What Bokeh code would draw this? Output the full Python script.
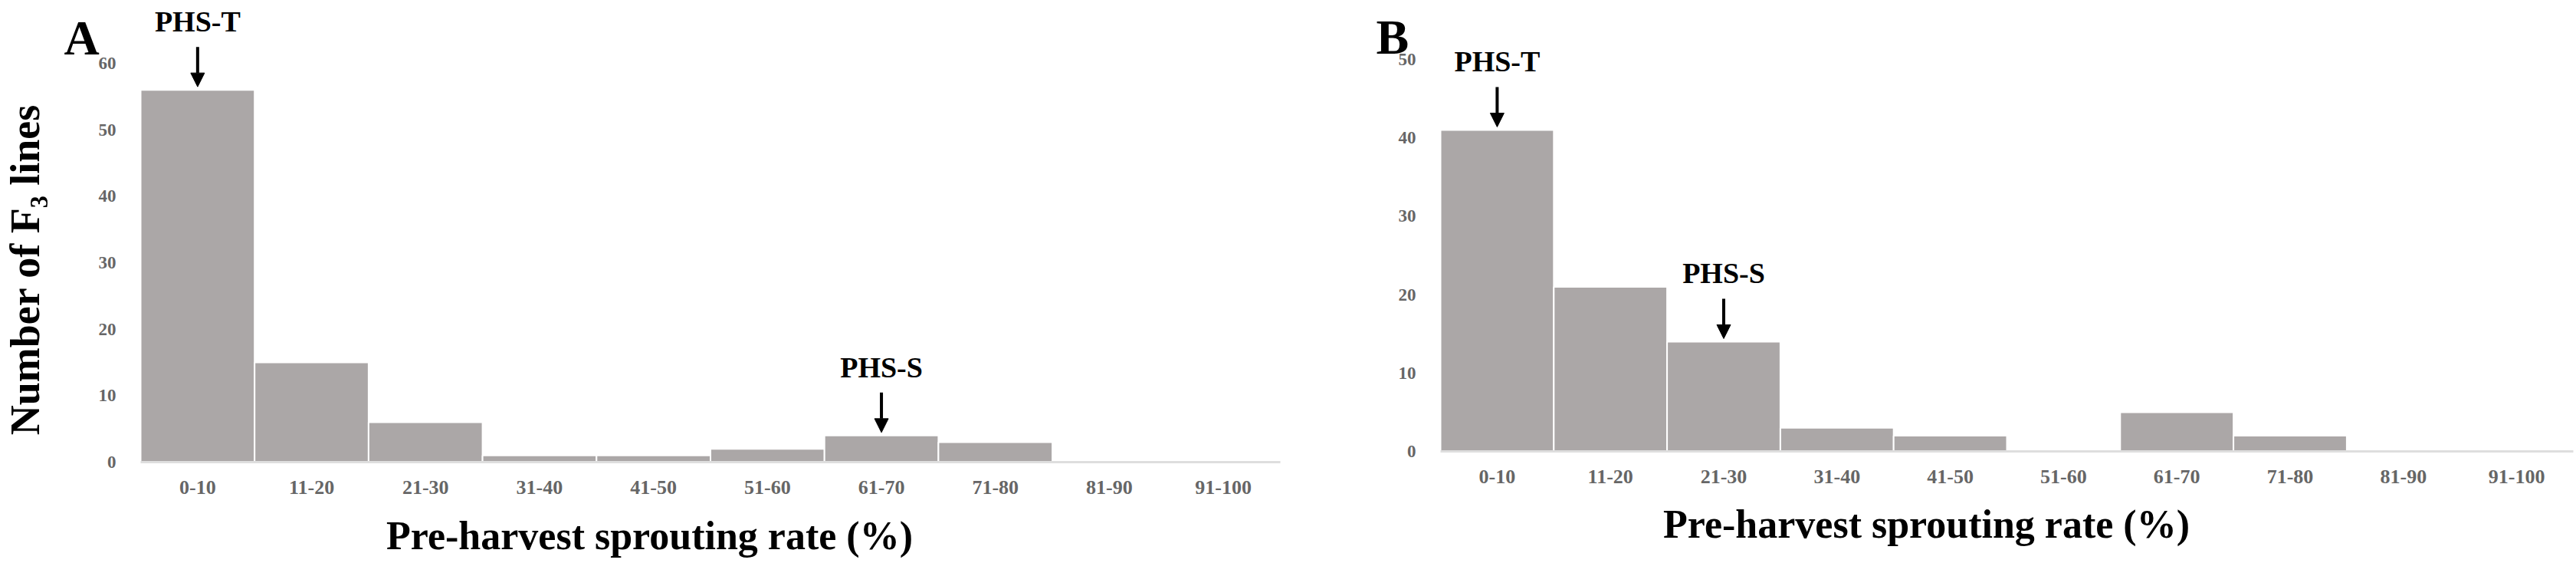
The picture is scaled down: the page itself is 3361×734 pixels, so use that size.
import math
from bokeh.plotting import figure
from bokeh.layouts import row
from bokeh.models import Range1d, FixedTicker, Label, Arrow, NormalHead
from bokeh.embed import file_html
from bokeh.resources import INLINE

# ---- data ----
categories = ["0-10", "11-20", "21-30", "31-40", "41-50",
              "51-60", "61-70", "71-80", "81-90", "91-100"]
counts_a = [56, 15, 6, 1, 1, 2, 4, 3, 0, 0]
counts_b = [41, 21, 14, 3, 2, 0, 5, 2, 0, 0]
yticks_a = [0, 10, 20, 30, 40, 50, 60]
yticks_b = [0, 10, 20, 30, 40, 50]
markers_a = [("PHS-T", "0-10"), ("PHS-S", "61-70")]
markers_b = [("PHS-T", "0-10"), ("PHS-S", "21-30")]
xlabel = "Pre-harvest sprouting rate (%)"
ylabel = "Number of F\u2083 lines"

FONT = "Liberation Serif"
BAR = "#aba7a7"
TICK = "#666666"
BASE_FIX = 0.32  # empirical baseline correction (fraction of font size)


def text_label(x, y, dx, dy, text, fs, align="center", angle=0.0, baseline="alphabetic"):
    fix = BASE_FIX * fs if baseline == "alphabetic" else 0
    return Label(x=x, y=y, x_offset=dx, y_offset=dy + fix, text=text, angle=angle,
                 text_font=FONT, text_font_size=f"{fs}px", text_font_style="bold",
                 text_color="black", text_align=align, text_baseline=baseline)


def panel(counts, yticks, markers, letter, W, H, px_left, px_right, px_base, ppu,
          ylab, title_dx, title_dy, letter_dx, letter_dy, ylab_dx, ylab_dy):
    n = len(categories)
    ppx = (px_right - px_left) / n
    xr = Range1d(-px_left / ppx, n + (W - px_right) / ppx)
    yr = Range1d(-(H - px_base) / ppu, px_base / ppu)
    p = figure(width=W, height=H, x_range=xr, y_range=yr, output_backend="svg",
               toolbar_location=None, min_border=0)
    p.outline_line_color = None
    p.grid.visible = False
    p.background_fill_color = "white"
    p.border_fill_color = "white"

    xs = [i + 0.5 for i in range(n)]
    p.vbar(x=xs, top=counts, width=1.0, bottom=0, fill_color=BAR,
           line_color="white", line_width=2)

    # x axis drawn at y = 0
    xa = p.xaxis[0]
    xa.fixed_location = 0
    xa.bounds = (0, n)
    xa.ticker = FixedTicker(ticks=xs)
    xa.major_label_overrides = {x: c for x, c in zip(xs, categories)}
    xa.major_tick_line_color = None
    xa.minor_tick_line_color = None
    xa.axis_line_color = "#dedede"
    xa.axis_line_width = 3
    xa.major_label_standoff = 18
    xa.major_label_text_font = FONT
    xa.major_label_text_font_size = "26px"
    xa.major_label_text_font_style = "bold"
    xa.major_label_text_color = TICK

    # y axis drawn at x = 0
    ya = p.yaxis[0]
    ya.fixed_location = 0
    ya.ticker = FixedTicker(ticks=yticks)
    ya.major_tick_line_color = None
    ya.minor_tick_line_color = None
    ya.axis_line_color = None
    ya.major_label_standoff = 26
    ya.major_label_text_font = FONT
    ya.major_label_text_font_size = "23px"
    ya.major_label_text_font_style = "bold"
    ya.major_label_text_color = TICK

    if ylab:
        p.add_layout(text_label(0, 0, ylab_dx, ylab_dy, ylab, 54,
                                angle=math.pi / 2, baseline="middle"))

    # x axis title (offset from centre as in the original)
    p.add_layout(text_label(0, 0, title_dx, title_dy, xlabel, 52))
    # panel letter
    p.add_layout(text_label(0, 0, letter_dx, letter_dy, letter, 64, align="left"))

    # markers
    for name, cat in markers:
        i = categories.index(cat)
        v = counts[i]
        tip = v + 4 / ppu
        start = tip + 52 / ppu
        p.add_layout(Arrow(x_start=i + 0.5, y_start=start, x_end=i + 0.5, y_end=tip,
                           line_color="black", line_width=4,
                           end=NormalHead(size=18, fill_color="black",
                                          line_color="black", line_width=1)))
        p.add_layout(text_label(i + 0.5, start, 0, 21, name, 38))
    return p


pa = panel(counts_a, yticks_a, markers_a, "A", 1740, 734,
           px_left=183, px_right=1670, px_base=602, ppu=8.667, ylab=ylabel,
           title_dx=664, title_dy=-113, letter_dx=-100, letter_dy=533,
           ylab_dx=-151, ylab_dy=251)
pb = panel(counts_b, yticks_b, markers_b, "B", 1621, 734,
           px_left=139, px_right=1617, px_base=588, ppu=10.22, ylab=None,
           title_dx=634, title_dy=-112, letter_dx=-84, letter_dy=520,
           ylab_dx=0, ylab_dy=0)

layout = row(pa, pb)
open("out.html", "w").write(file_html(layout, INLINE))
